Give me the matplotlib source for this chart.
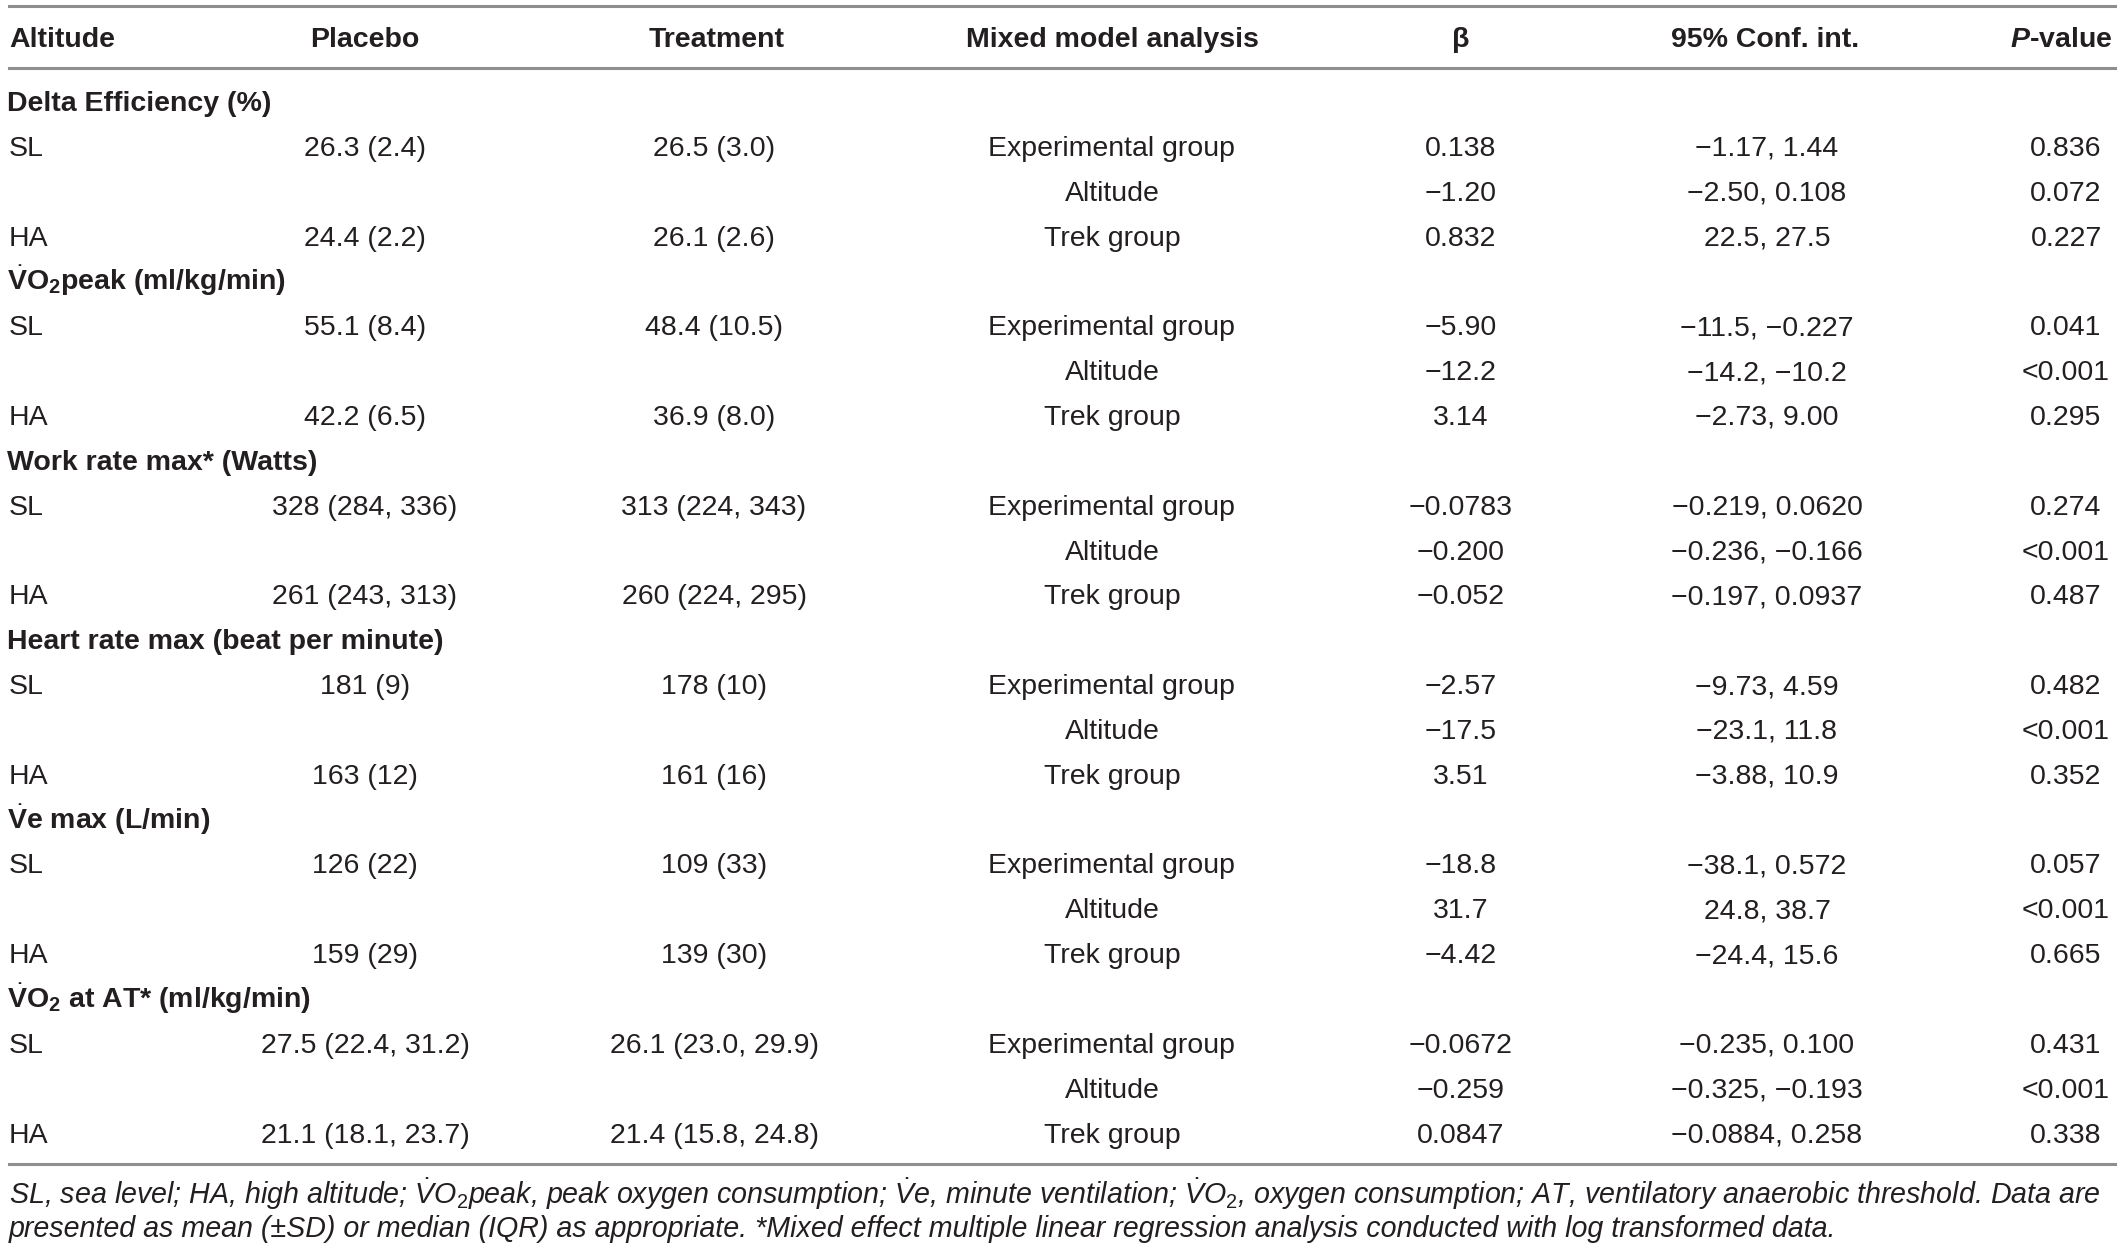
import matplotlib
matplotlib.use("Agg")
import matplotlib.pyplot as plt

plt.rcParams["font.family"] = ["Liberation Sans", "DejaVu Sans"]
plt.rcParams["mathtext.fontset"] = "custom"
plt.rcParams["mathtext.rm"] = "Liberation Sans"
plt.rcParams["mathtext.bf"] = "Liberation Sans:bold"
plt.rcParams["mathtext.it"] = "Liberation Sans:italic"
plt.rcParams["mathtext.bfit"] = "Liberation Sans:italic:bold"

W, H = 2122, 1254

headers = ["Altitude", "Placebo", "Treatment", "Mixed model analysis",
           "\u03b2", "95% Conf. int.", "$\\mathbfit{P}$-value"]

sections = [
    "Delta Efficiency (%)",
    r"$\dot{\mathbf{V}}\mathbf{O}_{\mathbf{2}}$peak (ml/kg/min)",
    "Work rate max* (Watts)",
    "Heart rate max (beat per minute)",
    r"$\dot{\mathbf{V}}$e max (L/min)",
    r"$\dot{\mathbf{V}}\mathbf{O}_{\mathbf{2}}$ at AT* (ml/kg/min)",
]

placebo_sl = ["26.3 (2.4)", "55.1 (8.4)", "328 (284, 336)", "181 (9)", "126 (22)", "27.5 (22.4, 31.2)"]
placebo_ha = ["24.4 (2.2)", "42.2 (6.5)", "261 (243, 313)", "163 (12)", "159 (29)", "21.1 (18.1, 23.7)"]
treatment_sl = ["26.5 (3.0)", "48.4 (10.5)", "313 (224, 343)", "178 (10)", "109 (33)", "26.1 (23.0, 29.9)"]
treatment_ha = ["26.1 (2.6)", "36.9 (8.0)", "260 (224, 295)", "161 (16)", "139 (30)", "21.4 (15.8, 24.8)"]

terms = ["Experimental group", "Altitude", "Trek group"]

beta = [
    ["0.138", "\u22121.20", "0.832"],
    ["\u22125.90", "\u221212.2", "3.14"],
    ["\u22120.0783", "\u22120.200", "\u22120.052"],
    ["\u22122.57", "\u221217.5", "3.51"],
    ["\u221218.8", "31.7", "\u22124.42"],
    ["\u22120.0672", "\u22120.259", "0.0847"],
]
conf_int = [
    ["\u22121.17, 1.44", "\u22122.50, 0.108", "22.5, 27.5"],
    ["\u221211.5, \u22120.227", "\u221214.2, \u221210.2", "\u22122.73, 9.00"],
    ["\u22120.219, 0.0620", "\u22120.236, \u22120.166", "\u22120.197, 0.0937"],
    ["\u22129.73, 4.59", "\u221223.1, 11.8", "\u22123.88, 10.9"],
    ["\u221238.1, 0.572", "24.8, 38.7", "\u221224.4, 15.6"],
    ["\u22120.235, 0.100", "\u22120.325, \u22120.193", "\u22120.0884, 0.258"],
]
p_value = [
    ["0.836", "0.072", "0.227"],
    ["0.041", "<0.001", "0.295"],
    ["0.274", "<0.001", "0.487"],
    ["0.482", "<0.001", "0.352"],
    ["0.057", "<0.001", "0.665"],
    ["0.431", "<0.001", "0.338"],
]

footnote = [
    r"SL, sea level; HA, high altitude; $\dot{\mathit{V}}\mathit{O}_{\mathit{2}}$peak, peak oxygen consumption; "
    r"$\dot{\mathit{V}}$e, minute ventilation; $\dot{\mathit{V}}\mathit{O}_{\mathit{2}}$, oxygen consumption; "
    r"AT, ventilatory anaerobic threshold. Data are",
    "presented as mean (\u00b1SD) or median (IQR) as appropriate. *Mixed effect multiple linear regression "
    "analysis conducted with log transformed data.",
]

TXT = "#231f20"
RULE = "#8e8e8e"
FS = 20.5

fig = plt.figure(figsize=(W / 100, H / 100), dpi=100)


def put(x, y, s, ha="center", **kw):
    # y is the visual centre of the row in pixels from top
    fig.text(x / W, 1 - (y + 10) / H, s, ha=ha, va="baseline",
             fontsize=kw.pop("fontsize", FS), color=TXT, **kw)


def rule(y):
    fig.add_artist(plt.Line2D([9 / W, 2115 / W], [1 - y / H, 1 - y / H],
                              color=RULE, lw=2.2))


col_x = [9, 365, 714, 1112, 1461, 1767, 2066]
head_x = [9, 365, 717, 1112, 1461, 1765, 2061]

rule(6)
rule(68)
rule(1164)

for i, h in enumerate(headers):
    put(head_x[i], 37, h, ha="left" if i == 0 else "center", fontweight="bold")

y0 = 101
step = 44.85
for k, name in enumerate(sections):
    ys = y0 + 4 * k * step
    put(7, ys, name, ha="left", fontweight="bold")
    rows = [ys + step, ys + 2 * step, ys + 3 * step]
    put(col_x[0], rows[0], "SL", ha="left")
    put(col_x[0], rows[2], "HA", ha="left")
    put(col_x[1], rows[0], placebo_sl[k])
    put(col_x[1], rows[2], placebo_ha[k])
    put(col_x[2], rows[0], treatment_sl[k])
    put(col_x[2], rows[2], treatment_ha[k])
    for j in range(3):
        put(col_x[3], rows[j], terms[j])
        put(col_x[4], rows[j], beta[k][j])
        put(col_x[5], rows[j], conf_int[k][j])
        put(col_x[6], rows[j], p_value[k][j])

for i, line in enumerate(footnote):
    put(9, 1194 + 33 * i, line, ha="left", fontstyle="italic", fontsize=20.6)

fig.savefig("out.png", dpi=100)
